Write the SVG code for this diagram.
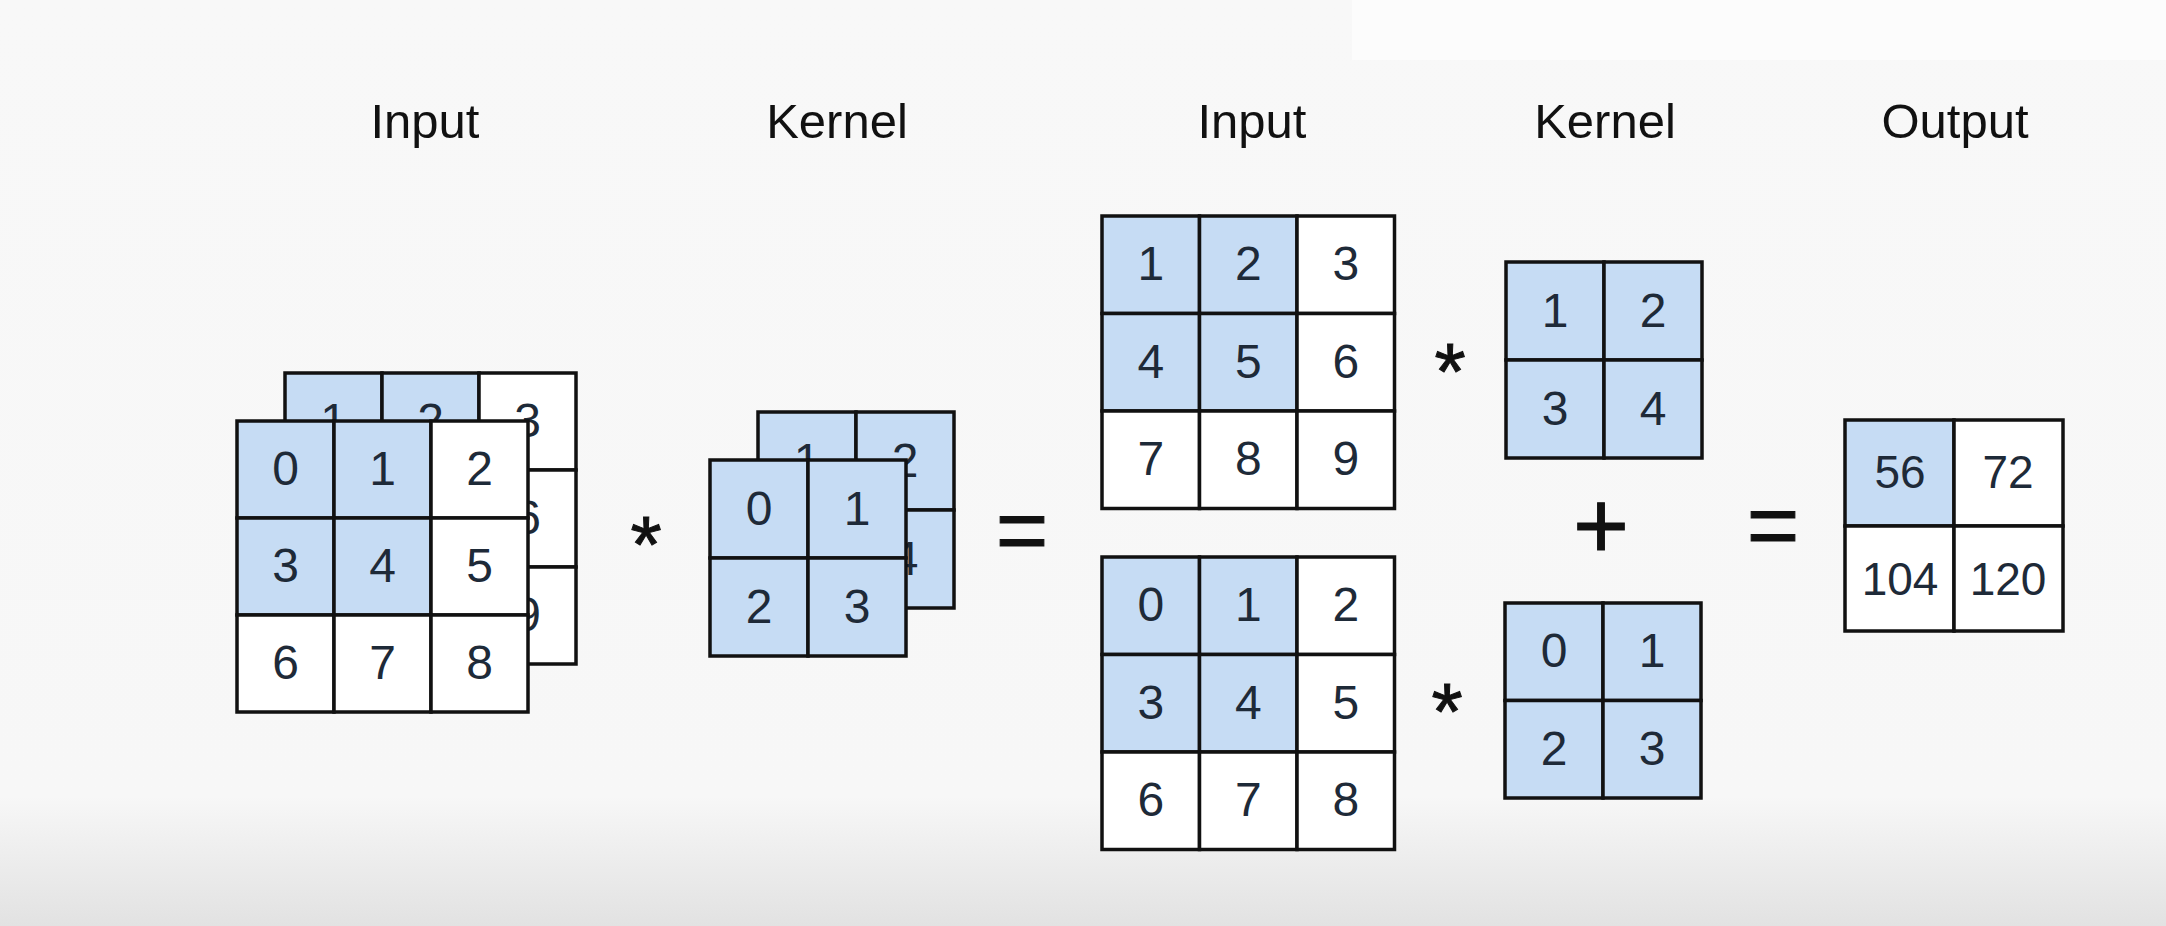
<svg xmlns="http://www.w3.org/2000/svg" width="2166" height="926" viewBox="0 0 2166 926">
<defs>
<linearGradient id="bg" x1="0" y1="0" x2="0" y2="1">
<stop offset="0" stop-color="#f8f8f8"/>
<stop offset="0.86" stop-color="#f7f7f7"/>
<stop offset="1" stop-color="#e2e2e2"/>
</linearGradient>
<style>
.c{stroke:#111;stroke-width:3.5}
.b{fill:#c6dcf4}
.w{fill:#ffffff}
.d{font-family:"Liberation Sans",Arial,sans-serif;font-size:48px;text-anchor:middle;fill:#1e2a38}
.o{font-family:"Liberation Sans",Arial,sans-serif;font-size:46px;text-anchor:middle;fill:#1e2a38}
.l{font-family:"Liberation Sans",Arial,sans-serif;font-size:49px;text-anchor:middle;fill:#111}
.op{font-family:"Liberation Sans",Arial,sans-serif;text-anchor:middle;fill:#111;stroke:#111;stroke-width:1}
</style>
</defs>
<rect x="0" y="0" width="2166" height="926" fill="url(#bg)"/>
<rect x="1352" y="0" width="814" height="60" fill="#fcfcfc"/>

<g id="labels">
<text class="l" x="425" y="138">Input</text>
<text class="l" x="837" y="138">Kernel</text>
<text class="l" x="1252" y="138">Input</text>
<text class="l" x="1605" y="138">Kernel</text>
<text class="l" x="1955" y="138">Output</text>
</g>

<g id="input-back">
<rect class="c b" x="285" y="373" width="97" height="97"/>
<rect class="c b" x="382" y="373" width="97" height="97"/>
<rect class="c w" x="479" y="373" width="97" height="97"/>
<rect class="c b" x="285" y="470" width="97" height="97"/>
<rect class="c b" x="382" y="470" width="97" height="97"/>
<rect class="c w" x="479" y="470" width="97" height="97"/>
<rect class="c w" x="285" y="567" width="97" height="97"/>
<rect class="c w" x="382" y="567" width="97" height="97"/>
<rect class="c w" x="479" y="567" width="97" height="97"/>
<text class="d" x="333.5" y="437">1</text>
<text class="d" x="430.5" y="437">2</text>
<text class="d" x="527.5" y="437">3</text>
<text class="d" x="333.5" y="534">4</text>
<text class="d" x="430.5" y="534">5</text>
<text class="d" x="527.5" y="534">6</text>
<text class="d" x="333.5" y="631">7</text>
<text class="d" x="430.5" y="631">8</text>
<text class="d" x="527.5" y="631">9</text>
</g>

<g id="input-front">
<rect class="c b" x="237" y="421" width="97" height="97"/>
<rect class="c b" x="334" y="421" width="97" height="97"/>
<rect class="c w" x="431" y="421" width="97" height="97"/>
<rect class="c b" x="237" y="518" width="97" height="97"/>
<rect class="c b" x="334" y="518" width="97" height="97"/>
<rect class="c w" x="431" y="518" width="97" height="97"/>
<rect class="c w" x="237" y="615" width="97" height="97"/>
<rect class="c w" x="334" y="615" width="97" height="97"/>
<rect class="c w" x="431" y="615" width="97" height="97"/>
<text class="d" x="285.5" y="485">0</text>
<text class="d" x="382.5" y="485">1</text>
<text class="d" x="479.5" y="485">2</text>
<text class="d" x="285.5" y="582">3</text>
<text class="d" x="382.5" y="582">4</text>
<text class="d" x="479.5" y="582">5</text>
<text class="d" x="285.5" y="679">6</text>
<text class="d" x="382.5" y="679">7</text>
<text class="d" x="479.5" y="679">8</text>
</g>

<g id="kernel-back">
<rect class="c b" x="758" y="412" width="98" height="98"/>
<rect class="c b" x="856" y="412" width="98" height="98"/>
<rect class="c b" x="758" y="510" width="98" height="98"/>
<rect class="c b" x="856" y="510" width="98" height="98"/>
<text class="d" x="807" y="477">1</text>
<text class="d" x="905" y="477">2</text>
<text class="d" x="807" y="575">3</text>
<text class="d" x="905" y="575">4</text>
</g>

<g id="kernel-front">
<rect class="c b" x="710" y="460" width="98" height="98"/>
<rect class="c b" x="808" y="460" width="98" height="98"/>
<rect class="c b" x="710" y="558" width="98" height="98"/>
<rect class="c b" x="808" y="558" width="98" height="98"/>
<text class="d" x="759" y="525">0</text>
<text class="d" x="857" y="525">1</text>
<text class="d" x="759" y="623">2</text>
<text class="d" x="857" y="623">3</text>
</g>

<g id="input-top">
<rect class="c b" x="1102" y="216" width="97.5" height="97.5"/>
<rect class="c b" x="1199.5" y="216" width="97.5" height="97.5"/>
<rect class="c w" x="1297" y="216" width="97.5" height="97.5"/>
<rect class="c b" x="1102" y="313.5" width="97.5" height="97.5"/>
<rect class="c b" x="1199.5" y="313.5" width="97.5" height="97.5"/>
<rect class="c w" x="1297" y="313.5" width="97.5" height="97.5"/>
<rect class="c w" x="1102" y="411" width="97.5" height="97.5"/>
<rect class="c w" x="1199.5" y="411" width="97.5" height="97.5"/>
<rect class="c w" x="1297" y="411" width="97.5" height="97.5"/>
<text class="d" x="1150.75" y="280">1</text>
<text class="d" x="1248.25" y="280">2</text>
<text class="d" x="1345.75" y="280">3</text>
<text class="d" x="1150.75" y="377.5">4</text>
<text class="d" x="1248.25" y="377.5">5</text>
<text class="d" x="1345.75" y="377.5">6</text>
<text class="d" x="1150.75" y="475">7</text>
<text class="d" x="1248.25" y="475">8</text>
<text class="d" x="1345.75" y="475">9</text>
</g>

<g id="kernel-top">
<rect class="c b" x="1506" y="262" width="98" height="98"/>
<rect class="c b" x="1604" y="262" width="98" height="98"/>
<rect class="c b" x="1506" y="360" width="98" height="98"/>
<rect class="c b" x="1604" y="360" width="98" height="98"/>
<text class="d" x="1555" y="327">1</text>
<text class="d" x="1653" y="327">2</text>
<text class="d" x="1555" y="425">3</text>
<text class="d" x="1653" y="425">4</text>
</g>

<g id="input-bottom">
<rect class="c b" x="1102" y="557" width="97.5" height="97.5"/>
<rect class="c b" x="1199.5" y="557" width="97.5" height="97.5"/>
<rect class="c w" x="1297" y="557" width="97.5" height="97.5"/>
<rect class="c b" x="1102" y="654.5" width="97.5" height="97.5"/>
<rect class="c b" x="1199.5" y="654.5" width="97.5" height="97.5"/>
<rect class="c w" x="1297" y="654.5" width="97.5" height="97.5"/>
<rect class="c w" x="1102" y="752" width="97.5" height="97.5"/>
<rect class="c w" x="1199.5" y="752" width="97.5" height="97.5"/>
<rect class="c w" x="1297" y="752" width="97.5" height="97.5"/>
<text class="d" x="1150.75" y="621">0</text>
<text class="d" x="1248.25" y="621">1</text>
<text class="d" x="1345.75" y="621">2</text>
<text class="d" x="1150.75" y="718.5">3</text>
<text class="d" x="1248.25" y="718.5">4</text>
<text class="d" x="1345.75" y="718.5">5</text>
<text class="d" x="1150.75" y="816">6</text>
<text class="d" x="1248.25" y="816">7</text>
<text class="d" x="1345.75" y="816">8</text>
</g>

<g id="kernel-bottom">
<rect class="c b" x="1505" y="603" width="98" height="97.5"/>
<rect class="c b" x="1603" y="603" width="98" height="97.5"/>
<rect class="c b" x="1505" y="700.5" width="98" height="97.5"/>
<rect class="c b" x="1603" y="700.5" width="98" height="97.5"/>
<text class="d" x="1554" y="667">0</text>
<text class="d" x="1652" y="667">1</text>
<text class="d" x="1554" y="764.5">2</text>
<text class="d" x="1652" y="764.5">3</text>
</g>

<g id="output">
<rect class="c b" x="1845" y="420" width="109" height="106"/>
<rect class="c w" x="1954" y="420" width="109" height="106"/>
<rect class="c w" x="1845" y="526" width="109" height="105"/>
<rect class="c w" x="1954" y="526" width="109" height="105"/>
<text class="o" x="1900" y="488">56</text>
<text class="o" x="2008" y="488">72</text>
<text class="o" x="1900" y="595">104</text>
<text class="o" x="2008" y="595">120</text>
</g>

<g id="operators">
<text class="op" x="646" y="572" font-size="80">*</text>
<text class="op" x="1450" y="399" font-size="80">*</text>
<text class="op" x="1447" y="739" font-size="80">*</text>
<text class="op" x="1022" y="561" font-size="90">=</text>
<text class="op" x="1601" y="559" font-size="96">+</text>
<text class="op" x="1773" y="556" font-size="90">=</text>
</g>
</svg>
